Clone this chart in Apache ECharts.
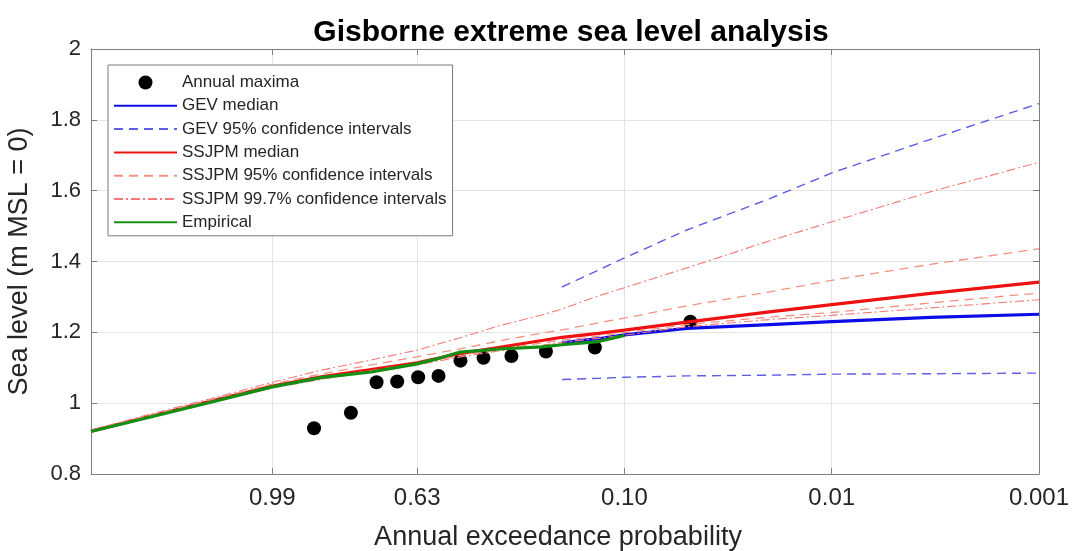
<!DOCTYPE html>
<html>
<head>
<meta charset="utf-8">
<script src="https://cdn.jsdelivr.net/npm/echarts@6/dist/echarts.min.js"></script>
<style>html,body{margin:0;padding:0;background:#fff}#c{width:1072px;height:551px}</style>
</head>
<body>
<div id="c"></div>
<script>
// ---- Data (x values are average recurrence intervals in years; axis is log10 of ARI) ----
const tickAri = [0.2, 1, 10, 100, 1000];
const tickLabels = ['0.99', '0.63', '0.10', '0.01', '0.001'];
const xMinAri = 0.0267;
const xMaxAri = 1000;

const maximaAri   = [0.318, 0.479, 0.637, 0.801, 1.011, 1.268, 1.618, 2.09, 2.85, 4.18, 7.20, 20.8];
const maximaLevel = [0.929, 0.973, 1.059, 1.061, 1.073, 1.077, 1.120, 1.128, 1.133, 1.146, 1.157, 1.230];

const ssjpmAri     = [0.0267, 0.05, 0.1, 0.2, 0.35, 0.6, 1, 1.6, 2.5, 4, 5, 7.5, 10, 20, 50, 100, 300, 1000];
const ssjpmMedian  = [0.921, 0.961, 1.005, 1.048, 1.075, 1.095, 1.114, 1.140, 1.158, 1.177, 1.186, 1.197, 1.206, 1.229, 1.258, 1.278, 1.310, 1.342];
const ssjpm95Hi    = [0.922, 0.964, 1.009, 1.054, 1.083, 1.108, 1.131, 1.153, 1.176, 1.198, 1.207, 1.227, 1.240, 1.275, 1.314, 1.347, 1.392, 1.436];
const ssjpm95Lo    = [0.919, 0.960, 1.003, 1.046, 1.071, 1.092, 1.112, 1.134, 1.152, 1.170, 1.178, 1.189, 1.199, 1.222, 1.243, 1.256, 1.283, 1.311];
const ssjpm997Hi   = [0.924, 0.967, 1.012, 1.059, 1.094, 1.122, 1.150, 1.184, 1.219, 1.249, 1.266, 1.303, 1.326, 1.382, 1.458, 1.512, 1.597, 1.680];
const ssjpm997Lo   = [0.918, 0.958, 1.001, 1.043, 1.068, 1.089, 1.108, 1.130, 1.148, 1.163, 1.172, 1.183, 1.192, 1.216, 1.236, 1.248, 1.269, 1.292];

const gevAri    = [5, 7.5, 10, 20, 50, 100, 300, 1000];
const gevMedian = [1.170, 1.182, 1.193, 1.211, 1.222, 1.230, 1.242, 1.251];
const gevHi     = [1.328, 1.376, 1.410, 1.489, 1.577, 1.650, 1.745, 1.846];
const gevLo     = [1.067, 1.070, 1.073, 1.077, 1.079, 1.082, 1.083, 1.085];

const empAri    = [0.0267, 0.05, 0.1, 0.2, 0.35, 0.6, 1, 1.3, 1.6, 2.5, 4, 5, 7.5, 10];
const empLevel  = [0.920, 0.959, 1.002, 1.046, 1.073, 1.088, 1.111, 1.128, 1.144, 1.153, 1.159, 1.165, 1.174, 1.191];

// ---- Build ----
const lg = v => Math.log10(v);
const pairs = (xs, ys) => xs.map((x, i) => [lg(x), ys[i]]);
const tickPos = tickAri.map(lg);
const labelFor = v => {
  let best = 0;
  tickPos.forEach((t, i) => { if (Math.abs(t - v) < Math.abs(tickPos[best] - v)) best = i; });
  return tickLabels[best];
};

const FONT = '"Liberation Sans", Arial, Helvetica, sans-serif';
const AXC = '#7e7e7e';
const TXT = '#262626';
const GRIDC = '#e4e4e4';

const lineSeries = (name, xs, ys, color, width, type, z) => ({
  name, type: 'line', data: pairs(xs, ys), showSymbol: false, symbol: 'none',
  lineStyle: { color, width, type }, itemStyle: { color }, z, silent: true
});

const xBase = { type: 'value', min: lg(xMinAri), max: lg(xMaxAri) };
const noSym = { opacity: 0 };

const option = {
  animation: false,
  backgroundColor: '#fff',
  title: {
    text: 'Gisborne extreme sea level analysis',
    left: 566, top: 13, textAlign: 'center',
    textStyle: { fontFamily: FONT, fontSize: 30, fontWeight: 'bold', color: '#000' }
  },
  grid: { left: 91, right: 33, top: 49, bottom: 77, containLabel: false, outerBoundsMode: 'none' },
  legend: {
    orient: 'vertical', left: 108, top: 65,
    backgroundColor: '#fff', borderColor: '#7a7a7a', borderWidth: 1,
    padding: [9, 6, 5, 5], itemGap: 6.3, itemWidth: 63, itemHeight: 14,
    textStyle: { fontFamily: FONT, fontSize: 17, color: TXT },
    data: [
      { name: 'Annual maxima' },
      { name: 'GEV median', itemStyle: noSym },
      { name: 'GEV 95% confidence intervals', itemStyle: noSym },
      { name: 'SSJPM median', itemStyle: noSym },
      { name: 'SSJPM 95% confidence intervals', itemStyle: noSym },
      { name: 'SSJPM 99.7% confidence intervals', itemStyle: noSym },
      { name: 'Empirical', itemStyle: noSym }
    ]
  },
  xAxis: [
    Object.assign({}, xBase, {
      position: 'bottom',
      name: 'Annual exceedance probability', nameLocation: 'middle', nameGap: 50,
      nameTextStyle: { fontFamily: FONT, fontSize: 27, color: TXT, padding: [0, 14, 0, 0] },
      axisLine: { show: true, onZero: false, lineStyle: { color: AXC, width: 1 } },
      axisTick: { show: true, inside: true, length: 6, customValues: tickPos, lineStyle: { color: AXC } },
      axisLabel: { show: true, customValues: tickPos, margin: 12, formatter: labelFor,
                   fontFamily: FONT, fontSize: 24, color: TXT },
      splitLine: { show: true, lineStyle: { color: GRIDC, width: 1 } }
    }),
    Object.assign({}, xBase, {
      position: 'top',
      axisLine: { show: true, onZero: false, lineStyle: { color: AXC, width: 1 } },
      axisTick: { show: true, inside: true, length: 6, customValues: tickPos, lineStyle: { color: AXC } },
      axisLabel: { show: false },
      splitLine: { show: false }
    })
  ],
  yAxis: [
    {
      type: 'value', min: 0.8, max: 2, interval: 0.2, position: 'left',
      name: 'Sea level (m MSL = 0)', nameLocation: 'middle', nameGap: 58,
      nameTextStyle: { fontFamily: FONT, fontSize: 27, color: TXT },
      axisLine: { show: true, onZero: false, lineStyle: { color: AXC, width: 1 } },
      axisTick: { show: true, inside: true, length: 6, lineStyle: { color: AXC } },
      axisLabel: { show: true, margin: 10, fontFamily: FONT, fontSize: 22, color: TXT },
      splitLine: { show: true, lineStyle: { color: GRIDC, width: 1 } }
    },
    {
      type: 'value', min: 0.8, max: 2, interval: 0.2, position: 'right',
      axisLine: { show: true, onZero: false, lineStyle: { color: AXC, width: 1 } },
      axisTick: { show: true, inside: true, length: 6, lineStyle: { color: AXC } },
      axisLabel: { show: false },
      splitLine: { show: false }
    }
  ],
  series: [
    {
      name: 'Annual maxima', type: 'scatter', data: pairs(maximaAri, maximaLevel),
      symbol: 'circle', symbolSize: 14, itemStyle: { color: '#000', opacity: 1 }, z: 2, silent: true
    },
    lineSeries('GEV median', gevAri, gevMedian, '#0c0ce6', 3.2, 'solid', 3),
    lineSeries('GEV 95% confidence intervals', gevAri, gevHi, '#5e5ee8', 1.4, [9, 6], 3),
    lineSeries('GEV 95% confidence intervals', gevAri, gevLo, '#5e5ee8', 1.4, [9, 6], 3),
    lineSeries('SSJPM median', ssjpmAri, ssjpmMedian, '#ee1111', 3.2, 'solid', 4),
    lineSeries('SSJPM 95% confidence intervals', ssjpmAri, ssjpm95Hi, '#f29382', 1.3, [9, 6], 4),
    lineSeries('SSJPM 95% confidence intervals', ssjpmAri, ssjpm95Lo, '#f29382', 1.3, [9, 6], 4),
    lineSeries('SSJPM 99.7% confidence intervals', ssjpmAri, ssjpm997Hi, '#f37a7a', 1.1, [9, 3, 2, 3], 4),
    lineSeries('SSJPM 99.7% confidence intervals', ssjpmAri, ssjpm997Lo, '#f37a7a', 1.1, [9, 3, 2, 3], 4),
    lineSeries('Empirical', empAri, empLevel, '#138f13', 3.2, 'solid', 5)
  ]
};

const chart = echarts.init(document.getElementById('c'), null, { renderer: 'canvas' });
chart.setOption(option);
</script>
</body>
</html>
